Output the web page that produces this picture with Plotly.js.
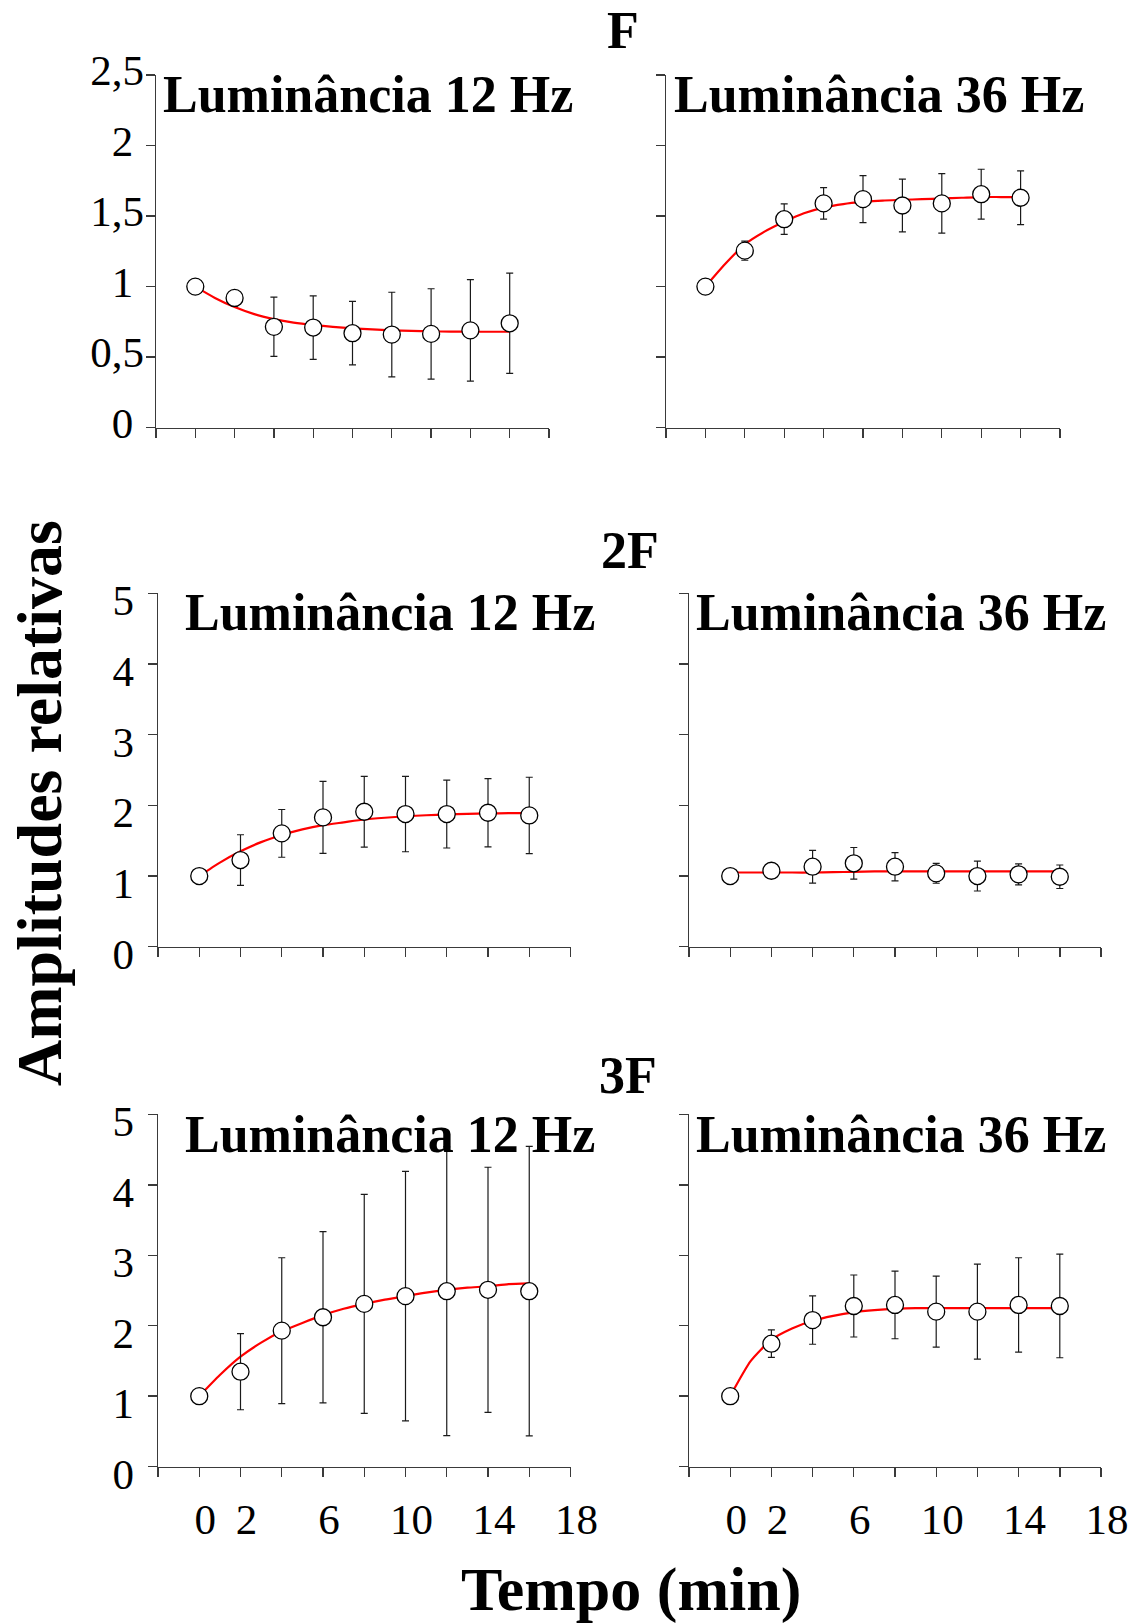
<!DOCTYPE html>
<html><head><meta charset="utf-8">
<script src="https://cdn.plot.ly/plotly-3.0.1.min.js"></script>
<style>html,body{margin:0;padding:0;background:#fff}#chart{width:1133px;height:1624px}</style>
</head><body><div id="chart"></div>
<script>
// ---------- data ----------
const minutes = [0, 2, 4, 6, 8, 10, 12, 14, 16];
const fitMinutes = [0, 1, 2, 3, 4, 5, 6, 7, 8, 9, 10, 11, 12, 13, 14, 15, 16];

const xTickVals = [-2, 0, 2, 4, 6, 8, 10, 12, 14, 16, 18];
const xTickLabels = ['', '0', '2', '', '6', '', '10', '', '14', '', '18'];

const yTicksF = [0, 0.5, 1, 1.5, 2, 2.5];
const yLabelsF = ['0', '0,5', '1', '1,5', '2', '2,5'];
const yTicksH = [0, 1, 2, 3, 4, 5];
const yLabelsH = ['0', '1', '2', '3', '4', '5'];

const rowLabels = ['F', '2F', '3F'];
const panelTitles = ['Luminância 12 Hz', 'Luminância 36 Hz'];
const xTitle = 'Tempo (min)';
const yTitle = 'Amplitudes relativas';

// F, 12 Hz
const F_12_mean = [1.00, 0.92, 0.715, 0.71, 0.67, 0.66, 0.665, 0.69, 0.74];
const F_12_err  = [0, 0, 0.21, 0.225, 0.225, 0.30, 0.32, 0.36, 0.355];
const F_12_fit  = [1.0, 0.92, 0.855, 0.805, 0.77, 0.745, 0.728, 0.715, 0.705, 0.697, 0.69, 0.686, 0.683, 0.681, 0.68, 0.68, 0.68];
// F, 36 Hz
const F_36_mean = [1.0, 1.255, 1.478, 1.59, 1.62, 1.575, 1.59, 1.655, 1.63];
const F_36_err  = [0, 0.068, 0.108, 0.112, 0.167, 0.187, 0.211, 0.177, 0.19];
const F_36_fit  = [1.0, 1.16, 1.30, 1.39, 1.46, 1.52, 1.56, 1.585, 1.60, 1.61, 1.615, 1.62, 1.625, 1.63, 1.635, 1.635, 1.635];
// 2F, 12 Hz
const F2_12_mean = [1.0, 1.226, 1.604, 1.83, 1.91, 1.877, 1.877, 1.896, 1.858];
const F2_12_err  = [0, 0.358, 0.338, 0.51, 0.50, 0.533, 0.48, 0.484, 0.54];
const F2_12_fit  = [1.0, 1.19, 1.35, 1.48, 1.58, 1.66, 1.72, 1.76, 1.80, 1.825, 1.845, 1.86, 1.87, 1.88, 1.885, 1.89, 1.89];
// 2F, 36 Hz
const F2_36_mean = [1.0, 1.075, 1.132, 1.18, 1.132, 1.038, 1.0, 1.024, 0.99];
const F2_36_err  = [0, 0, 0.231, 0.224, 0.20, 0.14, 0.212, 0.149, 0.166];
const F2_36_fit  = [1.05, 1.05, 1.05, 1.05, 1.05, 1.055, 1.06, 1.065, 1.065, 1.065, 1.065, 1.065, 1.065, 1.065, 1.065, 1.065, 1.065];
// 3F, 12 Hz
const F3_12_mean = [1.0, 1.347, 1.93, 2.12, 2.31, 2.42, 2.49, 2.51, 2.49];
const F3_12_err  = [0, 0.54, 1.035, 1.215, 1.555, 1.77, 2.05, 1.74, 2.055];
const F3_12_fit  = [1.0, 1.30, 1.56, 1.76, 1.92, 2.04, 2.15, 2.24, 2.31, 2.37, 2.42, 2.47, 2.51, 2.54, 2.56, 2.59, 2.60];
// 3F, 36 Hz
const F3_36_mean = [1.0, 1.745, 2.08, 2.28, 2.295, 2.20, 2.20, 2.295, 2.28];
const F3_36_err  = [0, 0.195, 0.343, 0.44, 0.48, 0.505, 0.675, 0.67, 0.735];
const F3_36_fit  = [1.0, 1.50, 1.80, 1.96, 2.07, 2.14, 2.19, 2.22, 2.24, 2.25, 2.25, 2.25, 2.25, 2.25, 2.25, 2.25, 2.25];

// ---------- layout helpers ----------
const W = 1133, H = 1624;
const px = v => v / W;
const py = v => 1 - v / H;
const FONT = '"Liberation Serif", "Times New Roman", Times, serif';
const AX = '#3a3a3a';

const panels = [
  {mean: F_12_mean, err: F_12_err, fit: F_12_fit, xpx: [156, 549], ypx: [75, 427.7], yr: [0, 2.5], yt: yTicksF, yl: yLabelsF, ylab: true, xlab: false, title: panelTitles[0], tpos: [368, 94]},
  {mean: F_36_mean, err: F_36_err, fit: F_36_fit, xpx: [666, 1060], ypx: [75, 427.7], yr: [0, 2.5], yt: yTicksF, yl: yLabelsF, ylab: false, xlab: false, title: panelTitles[1], tpos: [879, 94]},
  {mean: F2_12_mean, err: F2_12_err, fit: F2_12_fit, xpx: [158, 570.5], ypx: [593.4, 946.7], yr: [0, 5], yt: yTicksH, yl: yLabelsH, ylab: true, xlab: false, title: panelTitles[0], tpos: [390, 612]},
  {mean: F2_36_mean, err: F2_36_err, fit: F2_36_fit, xpx: [689, 1101], ypx: [593.4, 946.7], yr: [0, 5], yt: yTicksH, yl: yLabelsH, ylab: false, xlab: false, title: panelTitles[1], tpos: [901, 612]},
  {mean: F3_12_mean, err: F3_12_err, fit: F3_12_fit, xpx: [158, 570.5], ypx: [1114.4, 1466.6], yr: [0, 5], yt: yTicksH, yl: yLabelsH, ylab: true, xlab: true, title: panelTitles[0], tpos: [390, 1134]},
  {mean: F3_36_mean, err: F3_36_err, fit: F3_36_fit, xpx: [689, 1101], ypx: [1114.4, 1466.6], yr: [0, 5], yt: yTicksH, yl: yLabelsH, ylab: false, xlab: true, title: panelTitles[1], tpos: [901, 1134]}
];

const traces = [];
const layout = {
  width: W, height: H,
  margin: {l: 0, r: 0, t: 0, b: 0},
  paper_bgcolor: '#ffffff', plot_bgcolor: 'rgba(0,0,0,0)',
  showlegend: false,
  font: {family: FONT, color: '#000'},
  annotations: []
};

panels.forEach((p, i) => {
  const n = i + 1;
  const xa = 'x' + (n === 1 ? '' : n), ya = 'y' + (n === 1 ? '' : n);
  const xk = 'xaxis' + (n === 1 ? '' : n), yk = 'yaxis' + (n === 1 ? '' : n);
  const isF = p.yr[1] === 2.5;
  const ytext = p.yl.map(s => (isF && s.length === 1) ? s + '\u2008' : s);

  layout[xk] = {
    domain: [px(p.xpx[0]), px(p.xpx[1])], anchor: ya, range: [-2, 18],
    showgrid: false, zeroline: false, showline: true, linecolor: AX, linewidth: 1.4,
    ticks: 'outside', ticklen: 9, tickwidth: 1.4, tickcolor: AX,
    tickmode: 'array', tickvals: xTickVals,
    ticktext: p.xlab ? xTickLabels : xTickVals.map(() => ''),
    showticklabels: p.xlab, ticklabelstandoff: 5, ticklabelshift: 6,
    tickfont: {family: FONT, size: 43, color: '#000'}, fixedrange: true
  };
  layout[yk] = {
    domain: [py(p.ypx[1]), py(p.ypx[0])], anchor: xa, range: p.yr,
    showgrid: false, zeroline: false, showline: true, linecolor: AX, linewidth: 1.4,
    ticks: 'outside', ticklen: 9, tickwidth: 1.4, tickcolor: AX,
    tickmode: 'array', tickvals: p.yt, ticktext: ytext,
    showticklabels: p.ylab, ticklabelstandoff: isF ? -7 : 5,
    ticklabelshift: isF ? -5 : 7,
    tickfont: {family: FONT, size: 43, color: '#000'}, fixedrange: true
  };

  traces.push({
    x: fitMinutes, y: p.fit, xaxis: xa, yaxis: ya, type: 'scatter', mode: 'lines',
    line: {color: '#ff0000', width: 2.2, shape: 'spline', smoothing: 0.6},
    hoverinfo: 'skip'
  });
  traces.push({
    x: minutes, y: p.mean, xaxis: xa, yaxis: ya, type: 'scatter', mode: 'markers',
    marker: {symbol: 'circle', size: 17, color: '#ffffff', line: {color: '#000000', width: 1.3}},
    error_y: {type: 'data', array: p.err, visible: true, color: '#1a1a1a', thickness: 1.2, width: 3.5},
    cliponaxis: false
  });

  layout.annotations.push({
    text: '<b>' + p.title + '</b>', xref: 'paper', yref: 'paper',
    x: px(p.tpos[0]), y: py(p.tpos[1]), xanchor: 'center', yanchor: 'middle',
    showarrow: false, font: {family: FONT, size: 52, color: '#000'}
  });
});

const rowLabelPos = [[623, 31], [630, 550], [628, 1075]];
rowLabels.forEach((t, i) => {
  layout.annotations.push({
    text: '<b>' + t + '</b>', xref: 'paper', yref: 'paper',
    x: px(rowLabelPos[i][0]), y: py(rowLabelPos[i][1]), xanchor: 'center', yanchor: 'middle',
    showarrow: false, font: {family: FONT, size: 52, color: '#000'}
  });
});

layout.annotations.push({
  text: '<b>' + xTitle + '</b>', xref: 'paper', yref: 'paper',
  x: px(631), y: py(1589), xanchor: 'center', yanchor: 'middle',
  showarrow: false, font: {family: FONT, size: 62, color: '#000'}
});
layout.annotations.push({
  text: '<b>' + yTitle + '</b>', xref: 'paper', yref: 'paper', textangle: -90,
  x: px(39), y: py(803), xanchor: 'center', yanchor: 'middle',
  showarrow: false, font: {family: FONT, size: 64, color: '#000'}
});

Plotly.newPlot('chart', traces, layout, {displayModeBar: false, staticPlot: true});
</script>
</body></html>
